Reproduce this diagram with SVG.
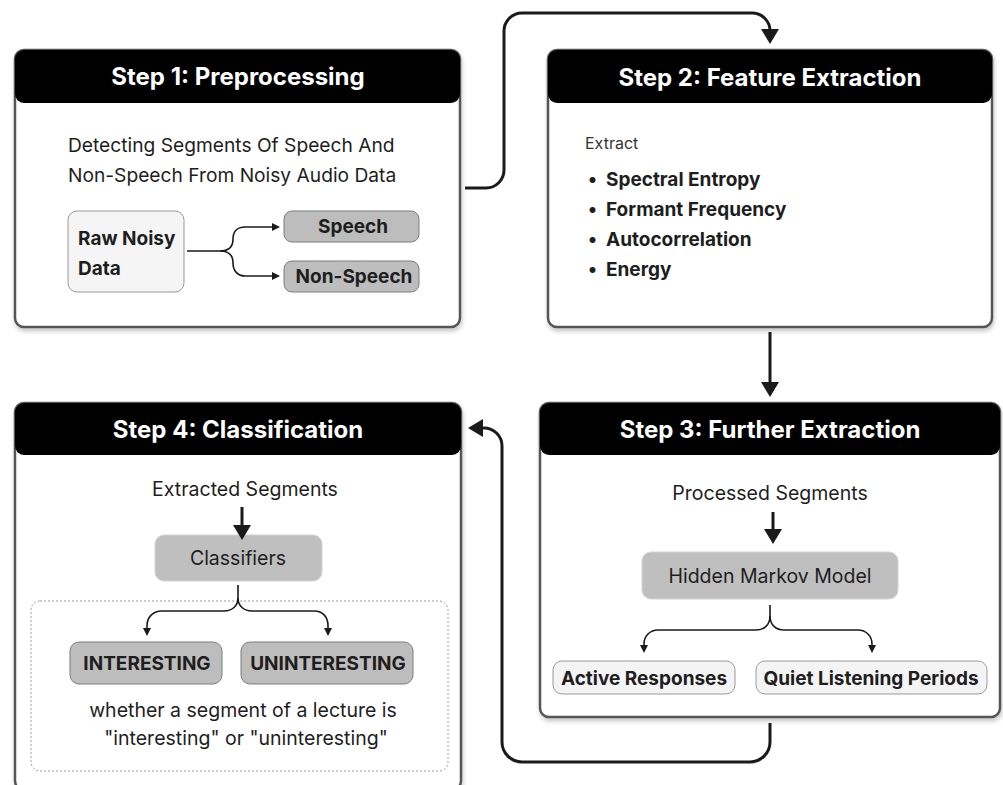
<svg xmlns="http://www.w3.org/2000/svg" width="1003" height="785" viewBox="0 0 1003 785">
<style>
text{font-family:Inter,"Noto Sans","Liberation Sans",sans-serif;fill:#1e1e1e}
.card{fill:#fff;stroke:#555;stroke-width:2.5}
.hdr{fill:#000}
.title{font-size:24px;font-weight:700;fill:#fff;text-anchor:middle}
.body{font-size:19.5px;font-weight:400}
.desc{font-size:19.2px;font-weight:400}
.bold{font-size:19px;font-weight:700}
.mid{text-anchor:middle}
.gray{fill:#bdbdbd;stroke:#7d7d7d;stroke-width:1}
.soft{fill:#bfbfbf;stroke:#d4d4d4;stroke-width:1}
.light{fill:#f4f4f4;stroke:#9a9a9a;stroke-width:1}
.thick{fill:none;stroke:#1a1a1a;stroke-width:3}
.thin{fill:none;stroke:#1a1a1a;stroke-width:1.6}
</style>
<defs>
<filter id="sh" x="-5%" y="-5%" width="110%" height="115%">
<feDropShadow dx="1" dy="3" stdDeviation="2" flood-color="#000" flood-opacity="0.22"/>
</filter>
<marker id="big" viewBox="0 0 15 18" refX="11" refY="9" markerWidth="15" markerHeight="18" markerUnits="userSpaceOnUse" orient="auto">
<path d="M0,0 L15,9 L0,18 Z" fill="#1a1a1a"/>
</marker>
<marker id="sm" viewBox="0 0 8 8" refX="6" refY="4" markerWidth="8" markerHeight="8" markerUnits="userSpaceOnUse" orient="auto">
<path d="M0,0 L8,4 L0,8 Z" fill="#1a1a1a"/>
</marker>
</defs>

<g id="step1">
<rect class="card" x="15" y="50" width="445" height="277" rx="9" filter="url(#sh)"/>
<rect class="hdr" x="15" y="50" width="445" height="53" rx="9"/>
<text class="title" x="238" y="85">Step 1: Preprocessing</text>
<text class="desc" x="68" y="152">Detecting Segments Of Speech And</text>
<text class="desc" x="68" y="182">Non-Speech From Noisy Audio Data</text>
<g id="raw">
<rect class="light" x="68" y="211" width="116" height="81" rx="9" style="fill:#f5f5f5"/>
<text class="bold" x="78" y="245">Raw Noisy</text>
<text class="bold" x="78" y="275">Data</text>
</g>
<g id="speech">
<rect class="gray" x="284" y="211" width="135" height="31" rx="8"/>
<text class="bold mid" x="353" y="233">Speech</text>
</g>
<g id="nonspeech">
<rect class="gray" x="284" y="261" width="135" height="31" rx="8"/>
<text class="bold mid" x="354" y="283">Non-Speech</text>
</g>
</g>

<g id="step2">
<rect class="card" x="548" y="50" width="444" height="277" rx="9" filter="url(#sh)"/>
<rect class="hdr" x="548" y="50" width="444" height="53" rx="9"/>
<text class="title" x="770" y="86">Step 2: Feature Extraction</text>
<text x="585" y="149" style="font-size:16px;fill:#333">Extract</text>
<text class="bold" x="588" y="186">•</text><text class="bold" x="606" y="186">Spectral Entropy</text>
<text class="bold" x="588" y="216">•</text><text class="bold" x="606" y="216">Formant Frequency</text>
<text class="bold" x="588" y="246">•</text><text class="bold" x="606" y="246">Autocorrelation</text>
<text class="bold" x="588" y="276">•</text><text class="bold" x="606" y="276">Energy</text>
</g>

<g id="step3">
<rect class="card" x="540" y="403" width="460" height="314" rx="9" filter="url(#sh)"/>
<rect class="hdr" x="540" y="403" width="460" height="52" rx="9"/>
<text class="title" x="770" y="438">Step 3: Further Extraction</text>
<text class="body mid" x="770" y="500">Processed Segments</text>
<g id="hmm">
<rect class="soft" x="642" y="552" width="256" height="47" rx="9"/>
<text class="body mid" x="770" y="583">Hidden Markov Model</text>
</g>
<g id="active">
<rect class="light" x="553" y="661" width="182" height="33" rx="9"/>
<text class="bold mid" x="644" y="685">Active Responses</text>
</g>
<g id="quiet">
<rect class="light" x="756" y="661" width="231" height="33" rx="9"/>
<text class="bold mid" x="871" y="685">Quiet Listening Periods</text>
</g>
</g>

<g id="step4">
<rect class="card" x="15" y="403" width="446" height="387" rx="9" filter="url(#sh)"/>
<rect class="hdr" x="15" y="403" width="446" height="52" rx="9"/>
<text class="title" x="238" y="438">Step 4: Classification</text>
<text class="body mid" x="245" y="496">Extracted Segments</text>
<g id="classifiers">
<rect class="soft" x="155" y="535" width="167" height="46" rx="9"/>
<text class="body mid" x="238" y="565">Classifiers</text>
</g>
<rect x="31" y="601" width="417" height="170" rx="9" fill="none" stroke="#9a9a9a" stroke-width="1" stroke-dasharray="2,2"/>
<g id="interesting">
<rect class="gray" x="70" y="642" width="152" height="42" rx="9"/>
<text class="bold mid" x="147" y="670">INTERESTING</text>
</g>
<g id="uninteresting">
<rect class="gray" x="241" y="642" width="172" height="42" rx="9"/>
<text class="bold mid" x="328" y="670">UNINTERESTING</text>
</g>
<text class="body mid" x="243" y="717">whether a segment of a lecture is</text>
<text class="body mid" x="246" y="745">"interesting" or "uninteresting"</text>
</g>

<g id="connectors">
<path class="thick" d="M465,188 H486 A18,18 0 0 0 504,170 V31 A18,18 0 0 1 522,13 H752 A18,18 0 0 1 770,31 V40" marker-end="url(#big)"/>
<path class="thick" d="M770,332 V393" marker-end="url(#big)"/>
<path class="thick" d="M770,723 V742 A20,20 0 0 1 750,762 H522 A20,20 0 0 1 502,742 V446 A18,18 0 0 0 484,428 H472" marker-end="url(#big)"/>
<path class="thick" d="M242,507 V536" marker-end="url(#big)"/>
<path class="thick" d="M773,512 V540" marker-end="url(#big)"/>
<path class="thin" d="M187,251 H220 C229,251 233,246 233,239 C233,232 237,227 245,227 H278" marker-end="url(#sm)"/>
<path class="thin" d="M220,251 C229,251 233,256 233,263 C233,270 237,276 245,276 H278" marker-end="url(#sm)"/>
<path class="thin" d="M238,585 V598 C238,606 232,611 224,611 H162 C153,611 147,617 147,626 V634" marker-end="url(#sm)"/>
<path class="thin" d="M238,598 C238,606 244,611 252,611 H314 C323,611 328,617 328,626 V634" marker-end="url(#sm)"/>
<path class="thin" d="M770,605 V616 C770,625 764,630 756,630 H658 C650,630 644,636 644,644 V651" marker-end="url(#sm)"/>
<path class="thin" d="M770,616 C770,625 776,630 784,630 H858 C866,630 872,636 872,644 V651" marker-end="url(#sm)"/>
</g>
</svg>
